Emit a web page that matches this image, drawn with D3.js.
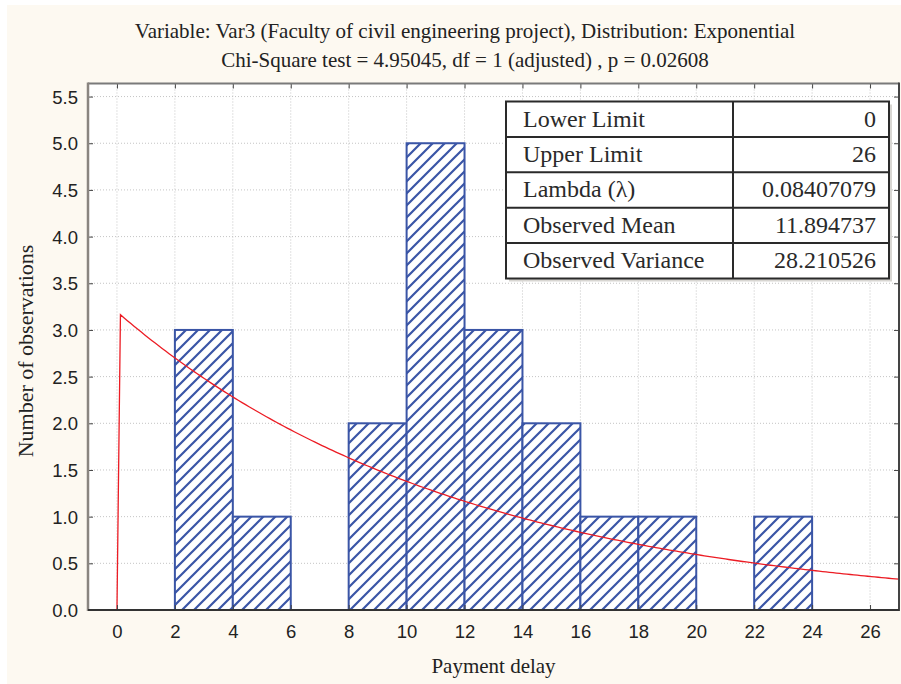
<!DOCTYPE html>
<html>
<head>
<meta charset="utf-8">
<script src="https://cdn.jsdelivr.net/npm/d3@7"></script>
<style>
  html, body { margin: 0; padding: 0; background: #ffffff; }
  svg { display: block; }
</style>
</head>
<body>
<svg id="chart" width="901" height="684"></svg>
<script>
// Histogram bins (lower edge, upper edge) and observed counts
const binStarts = [2, 4, 8, 10, 12, 14, 16, 18, 22];
const binEnds   = [4, 6, 10, 12, 14, 16, 18, 20, 24];
const counts    = [3, 1, 2, 5, 3, 2, 1, 1, 1];

// Fitted exponential distribution
const lambda = 0.08407079;
const binWidth = 2;

// Axis ticks
const xTicks = [0, 2, 4, 6, 8, 10, 12, 14, 16, 18, 20, 22, 24, 26];
const yTicks = [0.0, 0.5, 1.0, 1.5, 2.0, 2.5, 3.0, 3.5, 4.0, 4.5, 5.0, 5.5];

// Summary table
const tableLabels = ["Lower Limit", "Upper Limit", "Lambda (\u03BB)", "Observed Mean", "Observed Variance"];
const tableValues = ["0", "26", "0.08407079", "11.894737", "28.210526"];

const titleLines = [
  "Variable: Var3 (Faculty of civil engineering project), Distribution: Exponential",
  "Chi-Square test = 4.95045, df = 1 (adjusted) , p = 0.02608"
];
const xLabel = "Payment delay";
const yLabel = "Number of observations";

const W = 901, H = 684;
const plot = { left: 88, right: 899, top: 83.5, bottom: 610 };

const svg = d3.select("#chart");

// page background with a thin white border on the left/top
svg.append("rect").attr("width", W).attr("height", H).attr("fill", "#ffffff");
svg.append("rect").attr("x", 7).attr("y", 5).attr("width", W - 7).attr("height", H - 5).attr("fill", "#fdf9f1");

const x = d3.scaleLinear().domain([-1, 27]).range([plot.left, plot.right]);
const y = d3.scaleLinear().domain([0, 5.64]).range([plot.bottom, plot.top]);

// hatch pattern for the bars
const defs = svg.append("defs");
const pat = defs.append("pattern")
  .attr("id", "hatch")
  .attr("patternUnits", "userSpaceOnUse")
  .attr("width", 12).attr("height", 12);
pat.append("rect").attr("width", 12).attr("height", 12).attr("fill", "#ffffff");
pat.append("path")
  .attr("d", "M-3,3 L3,-3 M0,12 L12,0 M9,15 L15,9")
  .attr("stroke", "#3a55a6").attr("stroke-width", 2.2);

// plot area
svg.append("rect")
  .attr("x", plot.left).attr("y", plot.top)
  .attr("width", plot.right - plot.left).attr("height", plot.bottom - plot.top)
  .attr("fill", "#ffffff");

// dotted grid
const grid = svg.append("g").attr("stroke", "#c4c4c4").attr("stroke-width", 1).attr("stroke-dasharray", "1,2");
grid.selectAll("line.v").data(xTicks).join("line")
  .attr("x1", d => x(d)).attr("x2", d => x(d))
  .attr("y1", plot.top).attr("y2", plot.bottom);
grid.selectAll("line.h").data(yTicks.filter(d => d > 0)).join("line")
  .attr("x1", plot.left).attr("x2", plot.right)
  .attr("y1", d => y(d)).attr("y2", d => y(d));

// bars
const bars = binStarts.map((s, i) => ({ x0: s, x1: binEnds[i], n: counts[i] }));
svg.append("g").selectAll("rect").data(bars).join("rect")
  .attr("x", d => x(d.x0))
  .attr("y", d => y(d.n))
  .attr("width", d => x(d.x1) - x(d.x0))
  .attr("height", d => y(0) - y(d.n))
  .attr("fill", "url(#hatch)")
  .attr("stroke", "#3a55a6")
  .attr("stroke-width", 2);

// expected frequencies of the fitted exponential: N * width * lambda * exp(-lambda * x)
const N = d3.sum(counts);
const expected = v => v < 0 ? 0 : N * binWidth * lambda * Math.exp(-lambda * v);
const curveX = [-1, 0].concat(d3.range(0.12, 27.001, 0.12));
const curvePts = curveX.map((v, i) => [v, i < 2 ? 0 : expected(v)]);
svg.append("path")
  .datum(curvePts)
  .attr("fill", "none")
  .attr("stroke", "#ec1c24")
  .attr("stroke-width", 1.3)
  .attr("d", d3.line().x(d => x(d[0])).y(d => y(d[1])));

// axes (ticks drawn inward on all sides)
const tickFont = "'Liberation Sans', Arial, sans-serif";
const axB = svg.append("g").attr("transform", `translate(0,${plot.bottom})`)
  .call(d3.axisBottom(x).tickValues(xTicks).tickFormat(d3.format("d")).tickSizeInner(-5).tickSizeOuter(0).tickPadding(15));
const axT = svg.append("g").attr("transform", `translate(0,${plot.top})`)
  .call(d3.axisTop(x).tickValues(xTicks).tickFormat("").tickSizeInner(-5).tickSizeOuter(0));
const axL = svg.append("g").attr("transform", `translate(${plot.left},0)`)
  .call(d3.axisLeft(y).tickValues(yTicks).tickFormat(d3.format(".1f")).tickSizeInner(-5).tickSizeOuter(0).tickPadding(10));
const axR = svg.append("g").attr("transform", `translate(${plot.right},0)`)
  .call(d3.axisRight(y).tickValues(yTicks).tickFormat("").tickSizeInner(-5).tickSizeOuter(0));

[axB, axT, axL, axR].forEach(a => {
  a.select(".domain").remove();
  a.selectAll(".tick line").attr("stroke", "#444").attr("stroke-width", 1);
  a.selectAll(".tick text")
    .attr("font-family", tickFont).attr("font-size", 18.5).attr("fill", "#222");
});
axL.selectAll(".tick text").attr("dy", "0.36em");

// frame
svg.append("line").attr("x1", plot.left).attr("x2", plot.right).attr("y1", plot.top).attr("y2", plot.top)
  .attr("stroke", "#7a7a7a").attr("stroke-width", 2);
svg.append("line").attr("x1", plot.left).attr("x2", plot.left).attr("y1", plot.top - 1).attr("y2", plot.bottom + 1)
  .attr("stroke", "#8a8580").attr("stroke-width", 2.5);
svg.append("line").attr("x1", plot.right).attr("x2", plot.right).attr("y1", plot.top - 1).attr("y2", plot.bottom + 1)
  .attr("stroke", "#444").attr("stroke-width", 2);
svg.append("line").attr("x1", plot.left).attr("x2", plot.right).attr("y1", plot.bottom).attr("y2", plot.bottom)
  .attr("stroke", "#333").attr("stroke-width", 2);

// summary table
const serif = "'Liberation Serif', 'Times New Roman', serif";
const tbl = { left: 506, mid: 733, right: 889, top: 101.5, rowH: 35.4 };
const tblBottom = tbl.top + tbl.rowH * tableLabels.length;
const tg = svg.append("g");
tg.append("rect")
  .attr("x", tbl.left + 3).attr("y", tbl.top + 3)
  .attr("width", tbl.right - tbl.left).attr("height", tblBottom - tbl.top)
  .attr("fill", "#d8d6d2");
tg.append("rect")
  .attr("x", tbl.left).attr("y", tbl.top)
  .attr("width", tbl.right - tbl.left).attr("height", tblBottom - tbl.top)
  .attr("fill", "#ffffff").attr("stroke", "#2a2a2a").attr("stroke-width", 2);
tg.append("line").attr("x1", tbl.mid).attr("x2", tbl.mid).attr("y1", tbl.top).attr("y2", tblBottom)
  .attr("stroke", "#2a2a2a").attr("stroke-width", 2);
tg.selectAll("line.row").data(d3.range(1, tableLabels.length)).join("line")
  .attr("x1", tbl.left).attr("x2", tbl.right)
  .attr("y1", i => tbl.top + i * tbl.rowH).attr("y2", i => tbl.top + i * tbl.rowH)
  .attr("stroke", "#2a2a2a").attr("stroke-width", 2);
tg.selectAll("text.lab").data(tableLabels).join("text")
  .attr("x", tbl.left + 17)
  .attr("y", (d, i) => tbl.top + i * tbl.rowH + 25)
  .attr("font-family", serif).attr("font-size", 24).attr("fill", "#2a2a2a")
  .text(d => d);
tg.selectAll("text.val").data(tableValues).join("text")
  .attr("x", tbl.right - 13)
  .attr("y", (d, i) => tbl.top + i * tbl.rowH + 25)
  .attr("text-anchor", "end")
  .attr("font-family", serif).attr("font-size", 24).attr("fill", "#2a2a2a")
  .text(d => d);

// titles and axis labels
svg.selectAll("text.title").data(titleLines).join("text")
  .attr("x", 465).attr("y", (d, i) => 38 + i * 29)
  .attr("text-anchor", "middle")
  .attr("font-family", serif).attr("font-size", 21).attr("fill", "#222")
  .text(d => d);
svg.append("text")
  .attr("x", (plot.left + plot.right) / 2).attr("y", 673)
  .attr("text-anchor", "middle")
  .attr("font-family", serif).attr("font-size", 21).attr("fill", "#222")
  .text(xLabel);
svg.append("text")
  .attr("transform", `translate(33,351) rotate(-90)`)
  .attr("text-anchor", "middle")
  .attr("font-family", serif).attr("font-size", 22).attr("fill", "#222")
  .text(yLabel);
</script>
</body>
</html>
